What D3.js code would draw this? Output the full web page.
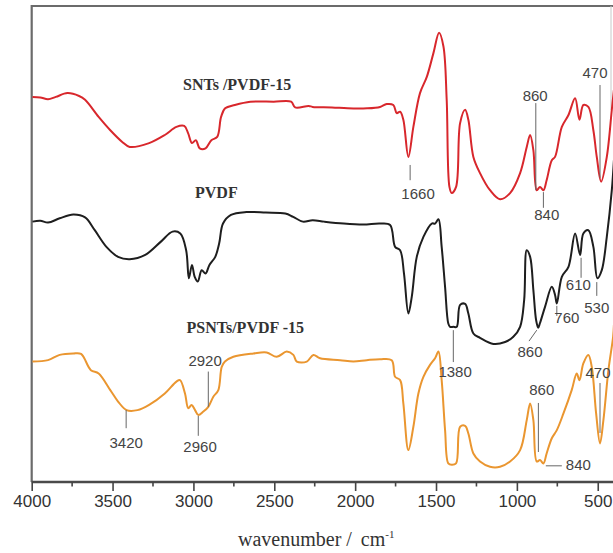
<!DOCTYPE html>
<html>
<head>
<meta charset="utf-8">
<script src="https://cdn.jsdelivr.net/npm/d3@7"></script>
<style>
    body { margin: 0; background: #fff; }
    #ftir-chart { width: 613px; height: 553px; }
</style>
</head>
<body>
<div id="ftir-chart"></div>
<script>
// ---- data (transmittance in arbitrary units, curves offset) ----
const seriesNames = ["SNTs /PVDF-15", "PVDF", "PSNTs/PVDF -15"];

const sntsWave = [3995, 3947, 3899, 3851, 3779, 3707, 3670, 3586, 3514, 3442, 3394, 3274, 3177, 3105, 3057, 3033, 3009, 2985, 2961, 2925, 2889, 2853, 2829, 2804, 2744, 2648, 2504, 2396, 2371, 2287, 2263, 2143, 2047, 1926,
    1846, 1805, 1764, 1743, 1722, 1702, 1671, 1640, 1599, 1557, 1516, 1481, 1454, 1434, 1417, 1403, 1376, 1351, 1320, 1300, 1269, 1228, 1166, 1104, 1042, 980, 939, 918, 898, 877, 857, 836, 816, 784, 764, 722, 681, 640, 613, 589, 558, 527, 506, 479, 444, 413, 400];
const sntsTrans = [80.9, 80.8, 80.4, 80.9, 81.7, 81.1, 80.3, 76.7, 73.9, 71.5, 70.4, 71.2, 72.9, 74.6, 74.8, 73.3, 71.2, 71.8, 70.1, 70.1, 71.8, 72.5, 76.7, 78.5, 79.2, 79.9, 79.9, 79.9, 78.7, 79.0, 78.8, 78.7, 78.5, 78.5,
    78.8, 79.4, 79.2, 77.5, 77.8, 76.1, 68.3, 74.6, 81.7, 85.1, 90.1, 94.4, 91.5, 80.3, 62.0, 60.7, 62.0, 75.4, 78.2, 76.1, 68.3, 64.9, 61.3, 59.4, 60.7, 64.9, 70.4, 72.9, 69.7, 61.3, 62.0, 61.3, 63.4, 67.6, 68.3, 74.6, 77.1, 80.6, 76.1, 79.2, 78.8, 73.9, 68.3, 63.1, 68.3, 78.2, 82.4];

const pvdfWave = [3995, 3947, 3899, 3827, 3743, 3670, 3610, 3538, 3466, 3394, 3298, 3201, 3129, 3081, 3045, 3028, 3009, 2992, 2973, 2949, 2925, 2901, 2865, 2841, 2817, 2768, 2672, 2552, 2432, 2383, 2323, 2263, 2191, 2071, 1950,
    1846, 1784, 1753, 1722, 1698, 1671, 1650, 1619, 1578, 1526, 1506, 1485, 1465, 1444, 1424, 1413, 1393, 1372, 1351, 1320, 1300, 1269, 1228, 1145, 1073, 1022, 980, 955, 939, 918, 898, 881, 868, 857, 826, 784, 764, 753, 722, 681, 640, 609, 589, 558, 527, 502, 475, 444, 413, 400];
const pvdfTrans = [54.7, 54.9, 54.5, 55.4, 56.2, 55.6, 52.9, 49.4, 47.3, 46.8, 47.7, 50.5, 52.6, 52.2, 48.7, 42.8, 45.6, 43.1, 42.1, 44.5, 43.8, 45.6, 47.3, 50.1, 54.3, 56.1, 56.7, 56.6, 56.4, 55.7, 54.7, 55.0, 54.7, 54.3, 54.1,
    54.3, 54.0, 49.4, 48.7, 43.8, 35.4, 38.9, 47.3, 51.5, 54.3, 54.3, 55.2, 49.4, 41.0, 33.3, 32.6, 32.6, 32.6, 37.2, 37.4, 35.4, 31.2, 30.3, 29.0, 29.4, 30.5, 32.6, 38.2, 48.7, 47.3, 40.3, 34.0, 32.4, 33.4, 36.8, 41.0, 39.3, 37.5, 43.1, 45.2, 52.2, 47.7, 52.2, 52.9, 49.4, 42.8, 44.5, 51.5, 61.3, 67.6];

const psntsWave = [3995, 3899, 3827, 3743, 3695, 3634, 3586, 3514, 3466, 3413, 3346, 3274, 3177, 3105, 3083, 3052, 3032, 3011, 2990, 2970, 2939, 2908, 2877, 2846, 2825, 2805, 2753, 2629, 2547, 2485, 2423, 2382, 2361, 2299, 2258, 2217, 2093, 2011, 1928,
    1846, 1774, 1753, 1722, 1702, 1671, 1640, 1609, 1578, 1537, 1506, 1485, 1465, 1444, 1424, 1403, 1376, 1351, 1320, 1300, 1269, 1228, 1166, 1104, 1042, 980, 939, 918, 898, 877, 857, 836, 816, 784, 753, 712, 661, 630, 613, 589, 558, 537, 510, 486, 465, 434, 405, 400];
const psntsTrans = [25.3, 25.6, 26.7, 27.0, 26.9, 23.5, 22.8, 19.3, 16.9, 15.1, 15.1, 16.2, 18.6, 21.1, 21.4, 18.6, 15.5, 16.2, 15.1, 14.1, 14.8, 15.8, 17.9, 19.3, 24.2, 25.3, 26.3, 27.0, 27.2, 26.3, 27.4, 26.7, 25.3, 25.3, 26.7, 26.0, 25.6, 25.3, 25.6,
    25.8, 25.6, 22.1, 21.4, 16.5, 6.7, 11.6, 18.6, 22.1, 24.6, 26.0, 27.4, 21.4, 10.9, 3.9, 3.6, 3.9, 11.6, 11.8, 10.2, 6.0, 4.3, 3.2, 3.2, 4.3, 6.7, 13.0, 16.5, 13.0, 4.3, 4.6, 3.9, 6.0, 9.2, 10.9, 14.4, 19.3, 22.8, 21.4, 24.9, 26.7, 24.2, 14.4, 8.1, 13.0, 23.5, 30.5, 33.0];

const xTickValues = [4000, 3500, 3000, 2500, 2000, 1500, 1000, 500];
const xMinorTicks = [3750, 3250, 2750, 2250, 1750, 1250, 750];

// peak labels: text, leader line (wavenumber, from / to level), label anchor (wavenumber, level)
const peakText  = ["1660", "860", "840", "470", "1380", "860", "760", "610", "530", "3420", "2960", "2920", "860", "840", "470"];
const peakLineW1 = [1660, 883, 836, 486, 1393, 877, 753, 603, 506, 3416, 2970, 2908, 867, 821, 486];
const peakLineW2 = [1660, 883, 836, 486, 1393, 925, 753, 603, 506, 3416, 2970, 2908, 867, 722, 486];
const peakLineV1 = [66.6, 79.6, 60.9, 83.4, 31.9, 31.9, 37.0, 47.1, 42.0, 15.1, 13.9, 23.2, 16.6, 3.4, 20.8];
const peakLineV2 = [63.4, 61.3, 57.6, 63.9, 25.2, 29.6, 34.9, 42.9, 39.1, 11.3, 9.7, 15.8, 6.3, 3.4, 10.3];
const peakLabelW = [1611, 887, 815, 517, 1382, 919, 691, 620, 506, 3416, 2959, 2928, 846, 620, 498];
const peakLabelV = [59.5, 80.0, 55.0, 84.9, 22.1, 26.3, 33.4, 40.3, 35.5, 7.1, 6.3, 24.4, 18.3, 2.5, 21.8];


class FtirSpectra {

    constructor(parentElement) {
        this.parentElement = parentElement;
        this.colors = ["#d8272c", "#1e1e1e", "#ea9630"];
        this.initVis();
    }

    initVis() {
        let vis = this;

        vis.width = 613;
        vis.height = 553;
        vis.plot = {left: 31.7, right: 611, top: 6, bottom: 482};

        vis.svg = d3.select("#" + vis.parentElement).append("svg")
            .attr("width", vis.width)
            .attr("height", vis.height);

        vis.x = d3.scaleLinear()
            .domain([4000, 418])
            .range([vis.plot.left, vis.plot.right]);

        vis.y = d3.scaleLinear()
            .domain([0, 100])
            .range([vis.plot.bottom, vis.plot.top]);

        vis.svg.append("defs").append("clipPath")
            .attr("id", "plot-clip")
            .append("rect")
            .attr("x", vis.plot.left)
            .attr("y", vis.plot.top)
            .attr("width", vis.width - vis.plot.left)
            .attr("height", vis.plot.bottom - vis.plot.top);

        // frame (top + left dark, right faint)
        vis.svg.append("line")
            .attr("x1", vis.plot.left).attr("x2", vis.width)
            .attr("y1", vis.plot.top).attr("y2", vis.plot.top)
            .attr("stroke", "#6b6b6b").attr("stroke-width", 2.2);
        vis.svg.append("line")
            .attr("x1", vis.plot.left).attr("x2", vis.plot.left)
            .attr("y1", vis.plot.top - 1).attr("y2", vis.plot.bottom)
            .attr("stroke", "#6b6b6b").attr("stroke-width", 2.2);
        vis.svg.append("line")
            .attr("x1", vis.plot.right).attr("x2", vis.plot.right)
            .attr("y1", vis.plot.top).attr("y2", 110)
            .attr("stroke", "#c8c8c8").attr("stroke-width", 1);

        // x axis
        vis.xAxis = d3.axisBottom(vis.x)
            .tickValues(xTickValues)
            .tickFormat(d3.format("d"))
            .tickSize(9)
            .tickSizeOuter(0)
            .tickPadding(4);

        vis.axisGroup = vis.svg.append("g")
            .attr("class", "x-axis")
            .attr("transform", `translate(0, ${vis.plot.bottom})`)
            .call(vis.xAxis);

        vis.axisGroup.select(".domain")
            .attr("d", `M${vis.plot.left},0H${vis.width}`)
            .attr("stroke", "#4a4a4a")
            .attr("stroke-width", 2.4);
        vis.axisGroup.selectAll(".tick line")
            .attr("stroke", "#444")
            .attr("stroke-width", 1.6);
        vis.axisGroup.selectAll(".tick text")
            .attr("font-family", "'Liberation Sans', Arial, sans-serif")
            .attr("font-size", "17px")
            .attr("fill", "#333");

        vis.svg.append("g")
            .attr("class", "minor-ticks")
            .selectAll("line")
            .data(xMinorTicks)
            .enter().append("line")
            .attr("x1", d => vis.x(d)).attr("x2", d => vis.x(d))
            .attr("y1", vis.plot.bottom).attr("y2", vis.plot.bottom + 4.5)
            .attr("stroke", "#444")
            .attr("stroke-width", 1.6);

        // axis title
        let title = vis.svg.append("text")
            .attr("x", 238)
            .attr("y", 546)
            .attr("font-family", "'Liberation Serif', 'Times New Roman', serif")
            .attr("font-size", "20px")
            .attr("fill", "#333");
        title.append("tspan").text("wavenumber /");
        title.append("tspan").attr("dx", 9).text("cm");
        title.append("tspan").attr("dy", -8).attr("font-size", "11px").text("-1");

        vis.line = d3.line()
            .x(d => vis.x(d.w))
            .y(d => vis.y(d.t))
            .curve(d3.curveCatmullRom.alpha(0.5));

        vis.curveGroup = vis.svg.append("g")
            .attr("clip-path", "url(#plot-clip)");
        vis.annoGroup = vis.svg.append("g")
            .attr("class", "annotations");
        vis.labelGroup = vis.svg.append("g")
            .attr("class", "series-labels");

        vis.wrangleData();
    }

    wrangleData() {
        let vis = this;

        let zipSeries = (waves, trans) => waves.map((w, i) => ({w: w, t: trans[i]}));

        vis.series = [
            {name: seriesNames[0], values: zipSeries(sntsWave, sntsTrans)},
            {name: seriesNames[1], values: zipSeries(pvdfWave, pvdfTrans)},
            {name: seriesNames[2], values: zipSeries(psntsWave, psntsTrans)}
        ];

        vis.peaks = peakText.map((txt, i) => ({
            text: txt,
            w1: peakLineW1[i], w2: peakLineW2[i],
            v1: peakLineV1[i], v2: peakLineV2[i],
            lw: peakLabelW[i], lv: peakLabelV[i]
        }));

        vis.updateVis();
    }

    updateVis() {
        let vis = this;

        vis.curveGroup.selectAll(".spectrum")
            .data(vis.series)
            .enter().append("path")
            .attr("class", "spectrum")
            .attr("fill", "none")
            .attr("stroke", (d, i) => vis.colors[i])
            .attr("stroke-width", 2)
            .attr("stroke-linejoin", "round")
            .attr("d", d => vis.line(d.values));

        vis.annoGroup.selectAll(".peak-line")
            .data(vis.peaks)
            .enter().append("line")
            .attr("class", "peak-line")
            .attr("x1", d => vis.x(d.w1)).attr("x2", d => vis.x(d.w2))
            .attr("y1", d => vis.y(d.v1)).attr("y2", d => vis.y(d.v2))
            .attr("stroke", "#666")
            .attr("stroke-width", 1);

        vis.annoGroup.selectAll(".peak-label")
            .data(vis.peaks)
            .enter().append("text")
            .attr("class", "peak-label")
            .attr("x", d => vis.x(d.lw))
            .attr("y", d => vis.y(d.lv))
            .attr("text-anchor", "middle")
            .attr("font-family", "'Liberation Sans', Arial, sans-serif")
            .attr("font-size", "15px")
            .attr("fill", "#444")
            .text(d => d.text);

        // series names
        let labelPos = [[183, 90], [195, 198], [186.5, 333]];
        vis.labelGroup.selectAll("text")
            .data(vis.series)
            .enter().append("text")
            .attr("x", (d, i) => labelPos[i][0])
            .attr("y", (d, i) => labelPos[i][1])
            .attr("font-family", "'Liberation Serif', 'Times New Roman', serif")
            .attr("font-weight", "bold")
            .attr("font-size", "16px")
            .attr("fill", "#333")
            .text(d => d.name);
    }
}

new FtirSpectra("ftir-chart");
</script>
</body>
</html>
